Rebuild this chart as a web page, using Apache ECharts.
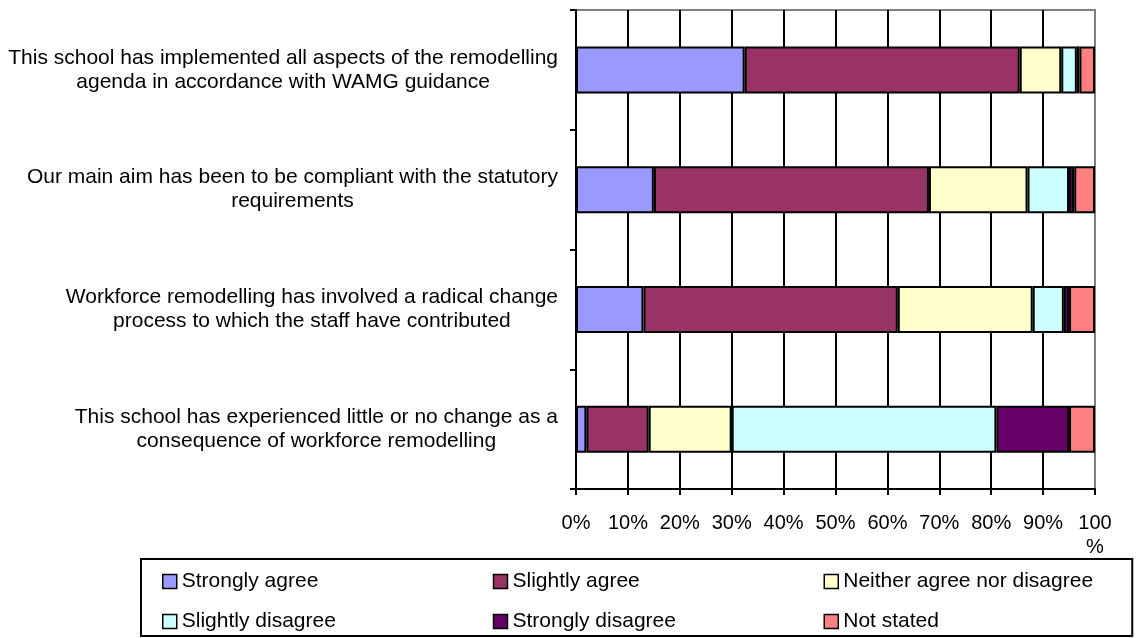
<!DOCTYPE html>
<html><head><meta charset="utf-8">
<script src="https://cdn.jsdelivr.net/npm/echarts@6/dist/echarts.min.js"></script>
<style>html,body{margin:0;padding:0;background:#fff}#c{width:1137px;height:638px}</style>
</head><body><div id="c"></div>
<script>
const categories = [
  'This school has implemented all aspects of the remodelling\nagenda in accordance with WAMG guidance',
  'Our main aim has been to be compliant with the statutory\nrequirements',
  'Workforce remodelling has involved a radical change\nprocess to which the staff have contributed',
  'This school has experienced little or no change as a\nconsequence of workforce remodelling'
];
const seriesNames = ['Strongly agree', 'Slightly agree', 'Neither agree nor disagree', 'Slightly disagree', 'Strongly disagree', 'Not stated'];
const seriesColors = ['#9999FF', '#993366', '#FFFFCC', '#CCFFFF', '#660066', '#FF8080'];
const stronglyAgree    = [32.5, 15, 13, 2];
const slightlyAgree    = [53, 53, 49, 12];
const neither          = [8, 19, 26, 16];
const slightlyDisagree = [3, 8, 6, 51];
const stronglyDisagree = [0.5, 1, 1, 14];
const notStated        = [3, 4, 5, 5];
const seriesValues = [stronglyAgree, slightlyAgree, neither, slightlyDisagree, stronglyDisagree, notStated];
const xTicks = [0, 10, 20, 30, 40, 50, 60, 70, 80, 90, 100];

const FONT = "'Liberation Sans', Arial, sans-serif";
const chart = echarts.init(document.getElementById('c'), null, {renderer: 'canvas'});
const gridColors = xTicks.map((t, i) => i === xTicks.length - 1 ? '#808080' : '#000');

chart.setOption({
  animation: false,
  backgroundColor: '#fff',
  textStyle: {fontFamily: FONT, color: '#000'},
  grid: {left: 576, top: 10, width: 519, height: 479, show: true, borderColor: '#808080', borderWidth: 2, backgroundColor: '#fff'},
  xAxis: {
    type: 'value', min: 0, max: 100, interval: 10,
    axisLine: {show: true, lineStyle: {color: '#000', width: 2}},
    axisTick: {show: true, length: 6, lineStyle: {color: '#000', width: 2}},
    splitLine: {show: true, lineStyle: {color: gridColors, width: 2}},
    axisLabel: {
      fontFamily: FONT, fontSize: 20, color: '#000', margin: 22, lineHeight: 24,
      formatter: v => v === 100 ? '100\n%' : v + '%'
    }
  },
  yAxis: {
    type: 'category', data: categories, inverse: true,
    axisLine: {show: true, lineStyle: {color: '#000', width: 2}},
    axisTick: {show: true, length: 6, lineStyle: {color: '#000', width: 2}},
    splitLine: {show: false},
    axisLabel: {
      interval: 0, margin: 18, align: 'right',
      formatter: v => '{c|' + v + '}',
      rich: {c: {fontFamily: FONT, fontSize: 21, lineHeight: 24, color: '#000', align: 'center'}}
    }
  },
  legend: {
    left: 141, top: 559,
    orient: 'horizontal',
    width: 1000,
    padding: [12, 25, 4, 21],
    itemWidth: 14, itemHeight: 14, itemGap: 19,
    icon: 'rect',
    borderColor: '#000', borderWidth: 2,
    itemStyle: {borderColor: '#000', borderWidth: 1.5},
    textStyle: {fontFamily: FONT, fontSize: 21, color: '#000', width: 292, lineHeight: 19},
    data: seriesNames.map((n, i) => (i % 3 === 2) ? {name: n, textStyle: {width: 264}} : {name: n})
  },
  series: seriesNames.map((name, i) => ({
    name, type: 'bar', stack: 'total', barWidth: 47,
    itemStyle: {color: seriesColors[i], borderColor: '#000', borderWidth: 2},
    emphasis: {disabled: true},
    data: seriesValues[i]
  }))
});
</script></body></html>
